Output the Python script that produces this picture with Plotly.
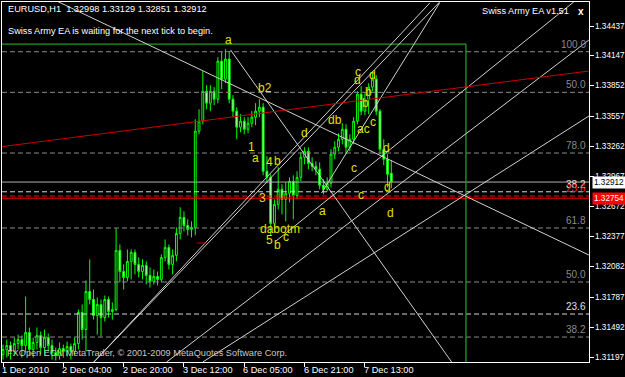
import plotly.graph_objects as go

# ---------------- data ----------------
bars = list(range(104))
opens = [1.31226,1.31275,1.31314,1.31255,1.31333,1.31372,1.31314,1.31441,1.31275,1.31343,
         1.31412,1.31294,1.31392,1.31314,1.31245,1.31216,1.31284,1.31255,1.31304,1.31255,
         1.31333,1.31637,1.31470,1.31842,1.31764,1.31607,1.31715,1.31588,1.31764,1.31647,
         1.31666,1.32244,1.32038,1.31979,1.32136,1.32224,1.32107,1.32038,1.32097,1.31999,
         1.31940,1.31989,1.31960,1.32175,1.32273,1.32107,1.32195,1.32410,1.32567,1.32488,
         1.32449,1.32469,1.33409,1.33507,1.33800,1.33683,1.33800,1.33722,1.34094,1.33918,
         1.34114,1.33722,1.33605,1.33448,1.33507,1.33428,1.33487,1.33546,1.33605,1.33644,
         1.33017,1.32958,1.32508,1.32694,1.32841,1.32743,1.32802,1.32919,1.32782,1.32958,
         1.33154,1.33213,1.33095,1.33066,1.33037,1.32880,1.32841,1.32900,1.33184,1.33252,
         1.33330,1.33428,1.33252,1.33330,1.33507,1.33771,1.33605,1.33722,1.33840,1.33918,
         1.33605,1.33233,1.33135,1.32998]
highs = [1.31323,1.31372,1.31353,1.31392,1.31421,1.31412,1.31793,1.31490,1.31392,1.31490,
         1.31451,1.31470,1.31431,1.31372,1.31294,1.31343,1.31323,1.31353,1.31333,1.31392,
         1.31666,1.31715,1.31950,1.32156,1.31862,1.31784,1.31764,1.31803,1.31793,1.31735,
         1.32459,1.32302,1.32107,1.32253,1.32253,1.32253,1.32175,1.32156,1.32136,1.32077,
         1.32058,1.32038,1.32205,1.32351,1.32302,1.32253,1.32469,1.32665,1.32626,1.32547,
         1.32528,1.33526,1.33624,1.33996,1.33859,1.33859,1.33840,1.34133,1.34182,1.34212,
         1.34192,1.33761,1.33644,1.33575,1.33546,1.33546,1.33605,1.33683,1.33722,1.33683,
         1.33164,1.32988,1.32743,1.33056,1.32890,1.32909,1.32958,1.32978,1.33017,1.33203,
         1.33252,1.33252,1.33154,1.33115,1.33105,1.32939,1.32958,1.33233,1.33311,1.33389,
         1.33487,1.33477,1.33379,1.33546,1.33800,1.33849,1.33781,1.33879,1.33996,1.33957,
         1.33624,1.33330,1.33184,1.33129]
lows = [1.31177,1.31196,1.31177,1.31216,1.31275,1.31196,1.31245,1.31216,1.31196,1.31275,
        1.31226,1.31216,1.31255,1.31177,1.31167,1.31177,1.31196,1.31206,1.31177,1.31216,
        1.31275,1.31372,1.31255,1.31715,1.31568,1.31421,1.31402,1.31549,1.31588,1.31568,
        1.31647,1.31930,1.31862,1.31940,1.31960,1.32009,1.31979,1.31960,1.31911,1.31881,
        1.31911,1.31901,1.31930,1.32136,1.32058,1.32009,1.32136,1.32351,1.32430,1.32391,
        1.32371,1.32391,1.33379,1.33477,1.33624,1.33605,1.33663,1.33683,1.33820,1.33879,
        1.33683,1.33546,1.33330,1.33399,1.33379,1.33389,1.33448,1.33467,1.33546,1.32978,
        1.32900,1.32391,1.32430,1.32645,1.32596,1.32528,1.32714,1.32547,1.32743,1.32919,
        1.33086,1.33037,1.33017,1.32978,1.32841,1.32792,1.32821,1.32860,1.33135,1.33213,
        1.33281,1.33184,1.33213,1.33281,1.33477,1.33565,1.33565,1.33575,1.33800,1.33565,
        1.33184,1.33076,1.32860,1.32851]
closes = [1.31275,1.31314,1.31255,1.31333,1.31372,1.31314,1.31441,1.31275,1.31343,1.31412,
          1.31294,1.31392,1.31314,1.31245,1.31216,1.31284,1.31255,1.31304,1.31255,1.31333,
          1.31637,1.31470,1.31842,1.31764,1.31607,1.31715,1.31588,1.31764,1.31647,1.31666,
          1.32244,1.32038,1.31979,1.32136,1.32224,1.32107,1.32038,1.32097,1.31999,1.31940,
          1.31989,1.31960,1.32175,1.32273,1.32107,1.32195,1.32410,1.32567,1.32488,1.32449,
          1.32469,1.33409,1.33507,1.33800,1.33683,1.33800,1.33722,1.34094,1.33918,1.34114,
          1.33722,1.33605,1.33448,1.33507,1.33428,1.33487,1.33546,1.33605,1.33644,1.33017,
          1.32958,1.32508,1.32694,1.32841,1.32743,1.32802,1.32919,1.32782,1.32958,1.33154,
          1.33213,1.33095,1.33066,1.33037,1.32880,1.32841,1.32900,1.33184,1.33252,1.33330,
          1.33428,1.33252,1.33330,1.33507,1.33771,1.33605,1.33722,1.33840,1.33918,1.33605,
          1.33233,1.33135,1.32988,1.32912]

time_tick_bars = [0, 16, 32, 48, 64, 80, 96]
time_tick_text = ["1 Dec 2010", "2 Dec 04:00", "2 Dec 20:00", "3 Dec 12:00",
                  "6 Dec 05:00", "6 Dec 21:00", "7 Dec 13:00"]
price_ticks = [1.34437, 1.34147, 1.33852, 1.33557, 1.33262, 1.32967, 1.32672,
               1.32377, 1.32082, 1.31787, 1.31492, 1.31197]

bid_price = 1.32912
stop_price = 1.32754

fib_prices = [1.34186, 1.33789, 1.33196, 1.32817, 1.32775, 1.32463, 1.31935, 1.31622, 1.31397]
fib_labels = ["100.0", "50.0", "78.0", "38.2", "23.6", "61.8", "50.0", "23.6", "38.2"]
fib_kind = ["g", "g", "g", "w", "r", "g", "g", "w", "g"]

box_top_price = 1.34261
box_right_bar = 122.8

# trend lines: (bar0, price0, bar1, price1)
trend_white = [
    (13.7, 1.34691, 155.4, 1.32199),
    (60.4, 1.34202, 119.0, 1.31153),
    (24.1, 1.31153, 115.8, 1.34671),
    (24.1, 1.31153, 113.2, 1.34662),
    (43.4, 1.31153, 155.4, 1.34300),
    (53.0, 1.31153, 155.4, 1.33557),
    (72.1, 1.32326, 158.3, 1.34877),
    (84.5, 1.32805, 115.8, 1.34662),
]
trend_red = [(-0.35, 1.33258, 155.4, 1.33997), (51.4, 1.32316, 53.9, 1.32316)]

wave_text = ["a", "b2", "1", "a", "4", "b", "3", "dabotm", "5", "b", "c", "d", "db", "c", "a",
             "c", "d", "d", "b", "b", "c", "ac", "d", "d", "c", "d"]
wave_bar = [59.9, 69.4, 66.0, 67.0, 70.7, 72.9, 68.9, 73.4, 70.7, 72.9, 75.0, 80.0, 88.0, 93.0, 84.8,
            94.1, 94.1, 98.0, 97.0, 96.2, 98.1, 95.7, 101.8, 102.0, 94.9, 102.8]
wave_price = [1.34300, 1.33831, 1.33254, 1.33147, 1.33108, 1.33117, 1.32756, 1.32453, 1.32345,
              1.32296, 1.32375, 1.33391, 1.33518, 1.33049, 1.32629, 1.33987, 1.33909, 1.33958,
              1.33792, 1.33684, 1.33499, 1.33430, 1.33244, 1.32863, 1.32785, 1.32609]

# ---------------- figure ----------------
W, H = 625, 377
L, R, T, B = 2, 36, 2, 15
FONT = "Liberation Sans, Arial, sans-serif"
FS = 9.2
X_RANGE = [-0.265, 155.44]
Y_RANGE = [1.31153, 1.34672]


def px(x):
    return (x - L) / (W - L - R)


def py(y):
    return 1 - (y - T) / (H - T - B)


fig = go.Figure()
fig.add_trace(go.Candlestick(
    x=bars, open=opens, high=highs, low=lows, close=closes,
    increasing=dict(line=dict(color="#00ff00", width=1), fillcolor="#000000"),
    decreasing=dict(line=dict(color="#00ff00", width=1), fillcolor="#c8ffc8"),
    whiskerwidth=0, showlegend=False, hoverinfo="skip"))

shapes = []
for p, k in zip(fib_prices, fib_kind):
    col = {"g": "#8a8a8a", "w": "#d8d8d8", "r": "#ff0000"}[k]
    shapes.append(dict(type="line", xref="paper", x0=0, x1=1, yref="y", y0=p, y1=p,
                       line=dict(color=col, width=1, dash="5px,3px")))
shapes.append(dict(type="line", xref="paper", x0=0, x1=1, yref="y", y0=bid_price, y1=bid_price,
                   line=dict(color="#b0b0b0", width=1)))
shapes.append(dict(type="line", xref="paper", x0=0, x1=1, yref="y", y0=stop_price, y1=stop_price,
                   line=dict(color="#ff0000", width=1)))
shapes.append(dict(type="line", xref="x", x0=X_RANGE[0], x1=box_right_bar, yref="y",
                   y0=box_top_price, y1=box_top_price, line=dict(color="#1e9e1e", width=1.3)))
shapes.append(dict(type="line", xref="x", x0=box_right_bar, x1=box_right_bar, yref="y",
                   y0=box_top_price, y1=Y_RANGE[0], line=dict(color="#1e9e1e", width=1.3)))
for (b0, p0, b1, p1) in trend_white:
    shapes.append(dict(type="line", xref="x", yref="y", x0=b0, y0=p0, x1=b1, y1=p1,
                       line=dict(color="#d0d0d0", width=1)))
for (b0, p0, b1, p1) in trend_red:
    shapes.append(dict(type="line", xref="x", yref="y", x0=b0, y0=p0, x1=b1, y1=p1,
                       line=dict(color="#cc0000", width=1)))

ann = []
for t, b, p in zip(wave_text, wave_bar, wave_price):
    ann.append(dict(x=b, y=p, xref="x", yref="y", text=t, showarrow=False,
                    font=dict(family=FONT, size=12, color="#e0e000")))
for p, lab, k in zip(fib_prices, fib_labels, fib_kind):
    col = {"g": "#8a8a8a", "w": "#e0e0e0", "r": "#ff2020"}[k]
    ann.append(dict(x=1, y=p, xref="paper", yref="y", text=lab, showarrow=False,
                    xanchor="right", yanchor="bottom", xshift=-1,
                    font=dict(family=FONT, size=10, color=col)))
for b, t in zip(time_tick_bars, time_tick_text):
    ann.append(dict(x=b, y=py(369.5), xref="x", yref="paper", text=t, showarrow=False,
                    xanchor="left", yanchor="middle", xshift=-3,
                    font=dict(family=FONT, size=FS, color="#ffffff")))
for v in price_ticks:
    ann.append(dict(x=1, y=v, xref="paper", yref="y", text=f"{v:.5f}", showarrow=False,
                    xanchor="left", yanchor="middle", xshift=4,
                    font=dict(family=FONT, size=8.2, color="#ffffff")))
ann.append(dict(x=1, y=bid_price, xref="paper", yref="y", text="1.32912", showarrow=False,
                xanchor="left", yanchor="middle", xshift=3, bgcolor="#ffffff", borderpad=1,
                font=dict(family=FONT, size=8.2, color="#000000")))
ann.append(dict(x=1, y=stop_price, xref="paper", yref="y", text="1.32754", showarrow=False,
                xanchor="left", yanchor="middle", xshift=3, bgcolor="#ff0000", borderpad=1,
                font=dict(family=FONT, size=8.2, color="#ffffff")))
ann.append(dict(x=px(6), y=py(9), xref="paper", yref="paper",
                text="EURUSD,H1  1.32998 1.33129 1.32851 1.32912", showarrow=False,
                xanchor="left", yanchor="middle", font=dict(family=FONT, size=FS, color="#ffffff")))
ann.append(dict(x=px(6), y=py(31), xref="paper", yref="paper",
                text="Swiss Army EA is waiting for the next tick to begin.", showarrow=False,
                xanchor="left", yanchor="middle", font=dict(family=FONT, size=FS, color="#ffffff")))
ann.append(dict(x=px(571), y=py(11), xref="paper", yref="paper",
                text="Swiss Army EA v1.51", showarrow=False,
                xanchor="right", yanchor="middle", font=dict(family=FONT, size=FS, color="#ffffff")))
ann.append(dict(x=px(581), y=py(11), xref="paper", yref="paper",
                text="<b>x</b>", showarrow=False,
                xanchor="center", yanchor="middle", font=dict(family=FONT, size=10, color="#ffffff")))
ann.append(dict(x=px(5), y=py(353), xref="paper", yref="paper",
                text="FXOpen ECN MetaTrader, \u00a9 2001-2009 MetaQuotes Software Corp.", showarrow=False,
                xanchor="left", yanchor="middle", font=dict(family=FONT, size=FS, color="#c8c8c8")))

fig.update_layout(
    width=W, height=H, margin=dict(l=L, r=R, t=T, b=B, pad=0, autoexpand=False),
    paper_bgcolor="#000000", plot_bgcolor="#000000",
    shapes=shapes, annotations=ann, showlegend=False,
    font=dict(family=FONT, size=FS, color="#ffffff"),
    xaxis=dict(range=X_RANGE, showgrid=False, zeroline=False, rangeslider=dict(visible=False),
               automargin=False,
               tickmode="array", tickvals=time_tick_bars, showticklabels=False,
               ticks="outside", ticklen=4, tickcolor="#ffffff",
               showline=True, linecolor="#ffffff", linewidth=1, mirror=True),
    yaxis=dict(range=Y_RANGE, side="right", showgrid=False, zeroline=False, automargin=False,
               tickmode="array", tickvals=price_ticks, showticklabels=False,
               ticks="outside", ticklen=4, tickcolor="#ffffff",
               showline=True, linecolor="#ffffff", linewidth=1, mirror=True),
)

fig.write_html("out.html")
